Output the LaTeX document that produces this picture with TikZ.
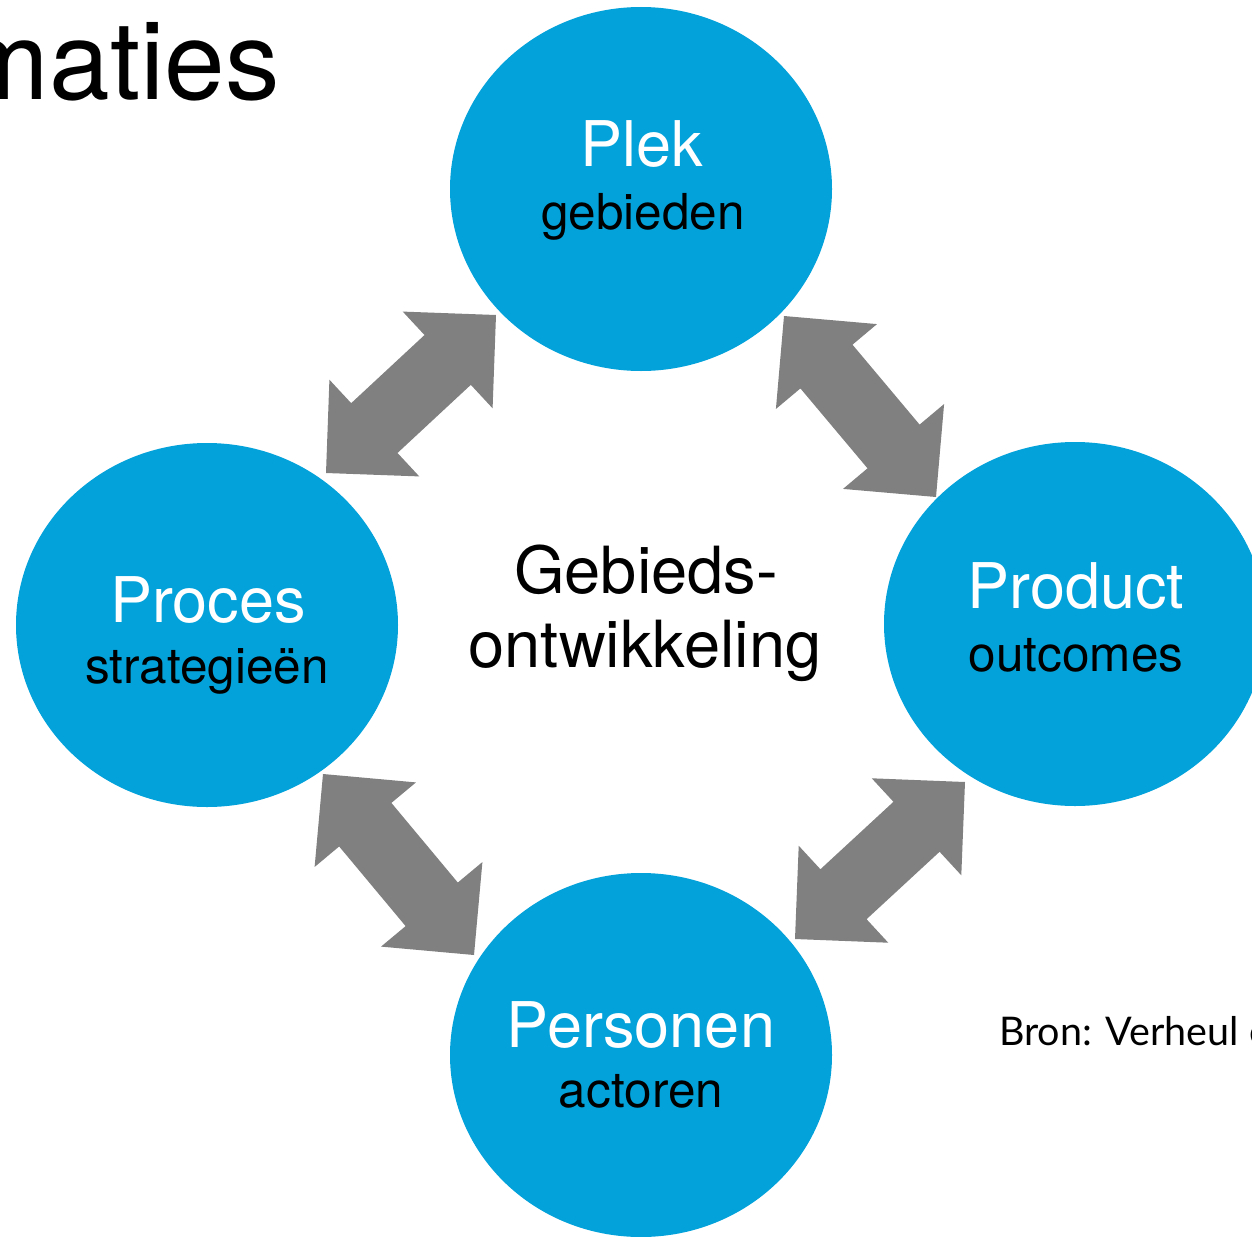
\documentclass[tikz,border=0pt]{standalone}
\usepackage{fontspec}
\setmainfont{TeX Gyre Heros}
\newfontfamily\bronfont{Lato}
\usetikzlibrary{calc,shapes.geometric}
\definecolor{cblue}{RGB}{3,162,219}
\definecolor{agray}{RGB}{128,128,128}
\newcommand\fatarrow[3]{%
  \coordinate (#3a) at ($(#1)!66pt!(#2)$);
  \coordinate (#3b) at ($(#2)!66pt!(#1)$);
  \fill[agray] (#1) -- ($(#3a)!66pt!90:(#2)$) -- ($(#3a)!34pt!90:(#2)$)
    -- ($(#3b)!34pt!-90:(#1)$) -- ($(#3b)!66pt!-90:(#1)$) -- (#2)
    -- ($(#3b)!66pt!90:(#1)$) -- ($(#3b)!34pt!90:(#1)$)
    -- ($(#3a)!34pt!-90:(#2)$) -- ($(#3a)!66pt!-90:(#2)$) -- cycle;
}
\begin{document}
\begin{tikzpicture}[x=1pt,y=-1pt,
  circ/.style={ellipse, fill=cblue, draw=none, minimum width=382pt, minimum height=364pt, inner sep=0pt},
  ttl/.style={anchor=base, text=white, font=\fontsize{63}{63}\selectfont, inner sep=0pt},
  sub/.style={anchor=base, text=black, font=\fontsize{49.5}{49.5}\selectfont, inner sep=0pt},
  ctr/.style={anchor=base, text=black, font=\fontsize{65}{65}\selectfont, inner sep=0pt}]
\useasboundingbox (0,0) rectangle (1252,1236);
\clip (0,0) rectangle (1252,1236);
\fill[white] (0,0) rectangle (1252,1236);
% heading fragment
\node[anchor=base east, font=\fontsize{109}{109}\selectfont, inner sep=0pt] (heading) at (280,100) {maties};
% circles
\node[circ] (plek) at (641,189) {};
\node[circ] (proces) at (207,625) {};
\node[circ] (product) at (1075,624) {};
\node[circ] (personen) at (641,1055) {};
% labels
\node[ttl] (plekT) at (642,166) {Plek};
\node[sub] (plekS) at (643,229) {gebieden};
\node[ttl] (procesT) at (208,622) {Proces};
\node[sub] (procesS) at (207,683) {strategieën};
\node[ttl] (productT) at (1076,608) {Product};
\node[sub] (productS) at (1076,671) {outcomes};
\node[ttl] (personenT) at (641,1047) {Personen};
\node[sub] (personenS) at (641,1107) {actoren};
\node[ctr] (center1) at (646,593) {Gebieds-};
\node[ctr] (center2) at (645,667) {ontwikkeling};
\node[anchor=base west, font=\bronfont\fontsize{39.5}{39.5}\selectfont, inner sep=0pt] (bron) at (999,1045) {Bron: Verheul et al.};
% arrow ends
\coordinate (tlA) at (326,473);
\coordinate (tlB) at (496,315);
\coordinate (trA) at (784,316);
\coordinate (trB) at (936,497);
\coordinate (blA) at (323,774);
\coordinate (blB) at (474,955);
\coordinate (brA) at (795,939);
\coordinate (brB) at (965,782);
\fatarrow{tlA}{tlB}{tl}
\fatarrow{trA}{trB}{tr}
\fatarrow{blA}{blB}{bl}
\fatarrow{brA}{brB}{br}
\end{tikzpicture}
\end{document}
